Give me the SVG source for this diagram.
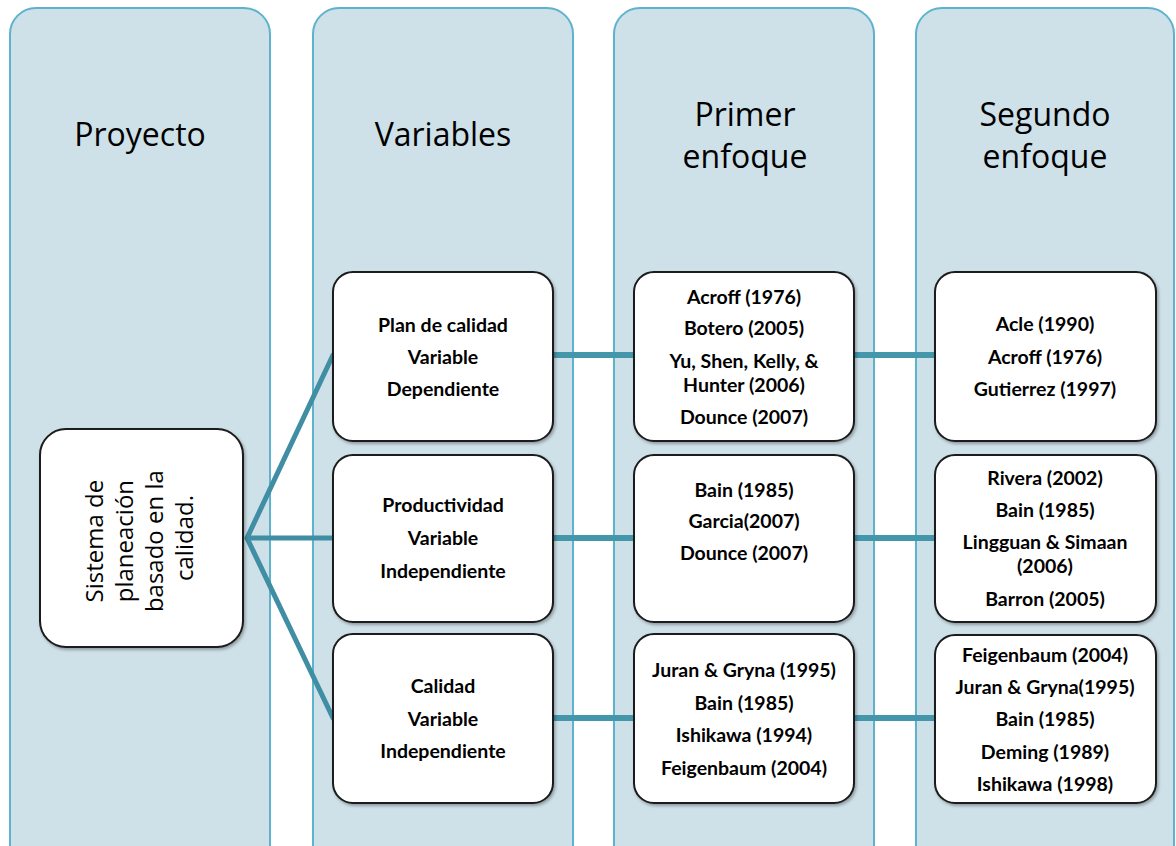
<svg xmlns="http://www.w3.org/2000/svg" width="1176" height="846" viewBox="0 0 1176 846">
  <style>
    .lane { fill: #cee0e8; stroke: #5db3cd; stroke-width: 2; }
    .head { font-family: "Open Sans", "Noto Sans", sans-serif; font-size: 32px; fill: #000; text-anchor: middle; }
    .box { fill: #fff; stroke: #1a1a1a; stroke-width: 2; filter: url(#shadow); }
    .lbl { font-family: Lato, "Open Sans", sans-serif; font-weight: bold; font-size: 19.5px; fill: #000; text-anchor: middle; }
    .root { font-family: "Open Sans", "Noto Sans", sans-serif; font-size: 24px; fill: #000; text-anchor: middle; }
    .link { stroke: #4496ab; stroke-width: 6; fill: none; }
    .fan { stroke: #3f8ea3; stroke-width: 5; fill: none; stroke-linecap: round; }
  </style>
  <defs>
    <filter id="shadow" x="-10%" y="-10%" width="125%" height="125%">
      <feDropShadow dx="1.5" dy="2" stdDeviation="1.5" flood-color="#000" flood-opacity="0.3"/>
    </filter>
  </defs>
  <rect width="1176" height="846" fill="#fff"/>

  <!-- swimlanes -->
  <g id="lane-proyecto">
    <rect class="lane" x="10" y="8" width="260" height="880" rx="26"/>
    <text class="head" x="140" y="146">Proyecto</text>
  </g>
  <g id="lane-variables">
    <rect class="lane" x="313" y="8" width="260" height="880" rx="26"/>
    <text class="head" x="443" y="146">Variables</text>
  </g>
  <g id="lane-primer">
    <rect class="lane" x="614" y="8" width="260" height="880" rx="26"/>
    <text class="head" x="745" y="126">Primer</text>
    <text class="head" x="745" y="168">enfoque</text>
  </g>
  <g id="lane-segundo">
    <rect class="lane" x="916" y="8" width="258" height="880" rx="26"/>
    <text class="head" x="1045" y="126">Segundo</text>
    <text class="head" x="1045" y="168">enfoque</text>
  </g>

  <!-- connectors -->
  <g id="connectors">
    <path class="fan" d="M247 538 L333 355 M247 538 L333 538 M247 538 L333 718"/>
    <path class="link" d="M553 355 H634 M854 355 H935 M553 538 H634 M854 538 H935 M553 718 H634 M854 718 H935"/>
  </g>

  <!-- root node -->
  <g id="node-sistema">
    <rect class="box" x="40" y="429" width="203" height="218" rx="26"/>
    <text class="root" transform="translate(141 538) rotate(-90)">
      <tspan x="0" y="-38">Sistema de</tspan>
      <tspan x="0" y="-8">planeación</tspan>
      <tspan x="0" y="22">basado en la</tspan>
      <tspan x="0" y="52">calidad.</tspan>
    </text>
  </g>

  <!-- variables -->
  <g id="node-plan">
    <rect class="box" x="333" y="272" width="220" height="169" rx="20"/>
    <text class="lbl"><tspan x="443" y="332">Plan de calidad</tspan><tspan x="443" y="364">Variable</tspan><tspan x="443" y="396">Dependiente</tspan></text>
  </g>
  <g id="node-productividad">
    <rect class="box" x="333" y="455" width="220" height="167" rx="20"/>
    <text class="lbl"><tspan x="443" y="512">Productividad</tspan><tspan x="443" y="545">Variable</tspan><tspan x="443" y="578">Independiente</tspan></text>
  </g>
  <g id="node-calidad">
    <rect class="box" x="333" y="634" width="220" height="169" rx="20"/>
    <text class="lbl"><tspan x="443" y="693">Calidad</tspan><tspan x="443" y="726">Variable</tspan><tspan x="443" y="758">Independiente</tspan></text>
  </g>

  <!-- primer enfoque -->
  <g id="node-primer-1">
    <rect class="box" x="634" y="272" width="220" height="169" rx="20"/>
    <text class="lbl"><tspan x="744" y="304">Acroff (1976)</tspan><tspan x="744" y="335">Botero (2005)</tspan><tspan x="744" y="368">Yu, Shen, Kelly, &amp;</tspan><tspan x="744" y="392">Hunter (2006)</tspan><tspan x="744" y="424">Dounce (2007)</tspan></text>
  </g>
  <g id="node-primer-2">
    <rect class="box" x="634" y="455" width="220" height="167" rx="20"/>
    <text class="lbl"><tspan x="744" y="497">Bain (1985)</tspan><tspan x="744" y="528">Garcia(2007)</tspan><tspan x="744" y="560">Dounce (2007)</tspan></text>
  </g>
  <g id="node-primer-3">
    <rect class="box" x="634" y="634" width="220" height="169" rx="20"/>
    <text class="lbl"><tspan x="744" y="677">Juran &amp; Gryna (1995)</tspan><tspan x="744" y="710">Bain (1985)</tspan><tspan x="744" y="742">Ishikawa (1994)</tspan><tspan x="744" y="775">Feigenbaum (2004)</tspan></text>
  </g>

  <!-- segundo enfoque -->
  <g id="node-segundo-1">
    <rect class="box" x="935" y="272" width="221" height="169" rx="20"/>
    <text class="lbl"><tspan x="1045" y="331">Acle (1990)</tspan><tspan x="1045" y="364">Acroff (1976)</tspan><tspan x="1045" y="396">Gutierrez (1997)</tspan></text>
  </g>
  <g id="node-segundo-2">
    <rect class="box" x="935" y="455" width="221" height="167" rx="20"/>
    <text class="lbl"><tspan x="1045" y="485">Rivera (2002)</tspan><tspan x="1045" y="517">Bain (1985)</tspan><tspan x="1045" y="549">Lingguan &amp; Simaan</tspan><tspan x="1045" y="573">(2006)</tspan><tspan x="1045" y="606">Barron (2005)</tspan></text>
  </g>
  <g id="node-segundo-3">
    <rect class="box" x="935" y="635" width="221" height="168" rx="20"/>
    <text class="lbl"><tspan x="1045" y="662">Feigenbaum (2004)</tspan><tspan x="1045" y="694">Juran &amp; Gryna(1995)</tspan><tspan x="1045" y="726">Bain (1985)</tspan><tspan x="1045" y="759">Deming (1989)</tspan><tspan x="1045" y="791">Ishikawa (1998)</tspan></text>
  </g>
</svg>
